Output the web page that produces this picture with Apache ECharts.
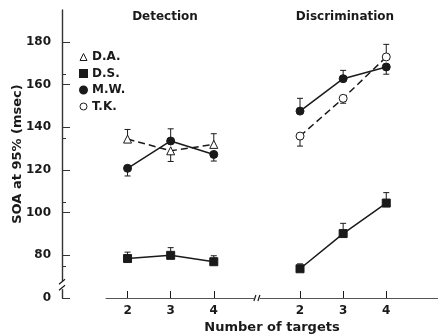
<!DOCTYPE html>
<html>
<head>
<meta charset="utf-8">
<script src="https://cdn.jsdelivr.net/npm/echarts@6/dist/echarts.min.js"></script>
<style>
  html, body { margin: 0; padding: 0; background: #fff; }
  #chart { width: 438px; height: 334px; }
</style>
</head>
<body>
<div id="chart"></div>
<script>
// number of targets per panel
const targets = ['2', '3', '4']
const detStart = 1 // x slot of Detection "2"
const discStart = 5 // x slot of Discrimination "2"
const breakSlot = 4

// SOA at 95% (msec)
const daDet = [134.5, 129, 132]
const dsDet = [78.5, 80, 77]
const dsDisc = [73.7, 90.2, 104.5]
const mwDet = [120.8, 133.6, 127.3]
const mwDisc = [147.6, 162.8, 168.3]
const tkDisc = [135.9, 153.6, 173]

// error bar end values (one side only, as drawn)
const daDetErr = [139, 124, 137]
const dsDetErr = [81.5, 83.6, 79.8]
const dsDiscErr = [76, 95, 109.4]
const mwDetErr = [117.2, 139.3, 124.2]
const mwDiscErr = [153.6, 166.7, 164.9]
const tkDiscErr = [131.2, 151.3, 178.9]

const yTicks = [60, 80, 100, 120, 140, 160, 180]
const yAxisOffset = 44
const ink = '#1a1a1a'
const font = 'DejaVu Sans'

const pts = (vals, start) => vals.map((v, i) => [start + i, v])
const errs = (vals, ends, start) => vals.map((v, i) => [start + i, v, ends[i]])

const errData = [].concat(
  errs(daDet, daDetErr, detStart),
  errs(dsDet, dsDetErr, detStart),
  errs(dsDisc, dsDiscErr, discStart),
  errs(mwDet, mwDetErr, detStart),
  errs(mwDisc, mwDiscErr, discStart),
  errs(tkDisc, tkDiscErr, discStart)
)

const solid = { color: ink, width: 1.5 }
const dashed = { color: ink, width: 1.5, type: [7, 4] }

function lineSeries(name, data, symbol, filled, lineStyle) {
  return {
    name: name,
    type: 'line',
    data: data,
    symbol: symbol,
    symbolSize: 8,
    lineStyle: lineStyle,
    itemStyle: { color: filled ? ink : '#fff', borderColor: ink, borderWidth: 1 },
    emphasis: { disabled: true },
    z: 3
  }
}

const chart = echarts.init(document.getElementById('chart'))

const option = {
  backgroundColor: '#fff',
  animation: false,
  textStyle: { fontFamily: font },
  grid: { left: 106, right: 0, top: 10, bottom: 36, outerBoundsMode: 'none', containLabel: false },
  graphic: [
    { type: 'text', x: 165, y: 11, style: { text: 'Detection', fontFamily: font, fontSize: 12, fontWeight: 'bold', fill: ink, align: 'center' } },
    { type: 'text', x: 345, y: 11, style: { text: 'Discrimination', fontFamily: font, fontSize: 12, fontWeight: 'bold', fill: ink, align: 'center' } }
  ],
  legend: {
    orient: 'vertical',
    left: 79,
    top: 51,
    itemWidth: 7,
    itemHeight: 7,
    itemGap: 4.5,
    padding: 0,
    textStyle: { fontFamily: font, fontSize: 12, fontWeight: 'bold', color: ink },
    data: [
      { name: 'D.A.', icon: 'triangle', itemStyle: { color: '#fff', borderColor: ink, borderWidth: 1 } },
      { name: 'D.S.', icon: 'rect', itemStyle: { color: ink } },
      { name: 'M.W.', icon: 'circle', itemStyle: { color: ink } },
      { name: 'T.K.', icon: 'circle', itemStyle: { color: '#fff', borderColor: ink, borderWidth: 1 } }
    ]
  },
  xAxis: {
    type: 'value',
    min: 0.5,
    max: 8.2,
    name: 'Number of targets',
    nameLocation: 'middle',
    nameGap: 23,
    nameMoveOverlap: false,
    nameTextStyle: { fontFamily: font, fontSize: 13, fontWeight: 'bold', color: ink },
    splitLine: { show: false },
    axisLine: { lineStyle: { color: '#555', width: 1 } },
    axisTick: {
      inside: true,
      length: 7,
      customValues: [1, 2, 3, 5, 6, 7],
      lineStyle: { color: ink }
    },
    axisLabel: {
      customValues: [1, 2, 3, 5, 6, 7],
      fontFamily: font,
      fontSize: 12,
      fontWeight: 'bold',
      color: ink,
      margin: 7,
      formatter: v => (v < breakSlot ? targets[v - detStart] : targets[v - discStart])
    }
  },
  yAxis: {
    type: 'value',
    min: 60,
    max: 195,
    offset: yAxisOffset,
    name: 'SOA at 95% (msec)',
    nameLocation: 'middle',
    nameGap: 38,
    nameMoveOverlap: false,
    nameTextStyle: { fontFamily: font, fontSize: 13, fontWeight: 'bold', color: ink },
    splitLine: { show: false },
    axisLine: { lineStyle: { color: '#333', width: 1.4 } },
    axisTick: {
      inside: true,
      length: 8,
      customValues: yTicks,
      lineStyle: { color: '#333' }
    },
    minorTick: { show: true, splitNumber: 2, length: 4, lineStyle: { color: '#333' } },
    axisLabel: {
      customValues: yTicks,
      fontFamily: font,
      fontSize: 12,
      fontWeight: 'bold',
      color: ink,
      margin: 11,
      formatter: v => (v === 60 ? '0' : String(v))
    }
  },
  series: [
    {
      type: 'custom',
      name: 'errors',
      data: errData,
      encode: { x: 0, y: [1, 2] },
      z: 2,
      silent: true,
      renderItem: function (params, api) {
        const p = api.coord([api.value(0), api.value(1)])
        const e = api.coord([api.value(0), api.value(2)])
        const st = { stroke: ink, lineWidth: 1 }
        return {
          type: 'group',
          children: [
            { type: 'line', shape: { x1: p[0], y1: p[1], x2: e[0], y2: e[1] }, style: st },
            { type: 'line', shape: { x1: e[0] - 3, y1: e[1], x2: e[0] + 3, y2: e[1] }, style: st }
          ]
        }
      }
    },
    lineSeries('D.A.', pts(daDet, detStart), 'triangle', false, dashed),
    lineSeries('D.S.', pts(dsDet, detStart), 'rect', true, solid),
    lineSeries('D.S.', pts(dsDisc, discStart), 'rect', true, solid),
    lineSeries('M.W.', pts(mwDet, detStart), 'circle', true, solid),
    lineSeries('M.W.', pts(mwDisc, discStart), 'circle', true, solid),
    lineSeries('T.K.', pts(tkDisc, discStart), 'circle', false, dashed),
    {
      // axis break marks on both axes
      type: 'custom',
      name: 'breaks',
      data: [[breakSlot, 60]],
      z: 5,
      silent: true,
      renderItem: function (params, api) {
        const xb = api.coord([api.value(0), api.value(1)])
        const ya = api.coord([0.5, 66])
        const yx = ya[0] - yAxisOffset
        const st = { stroke: ink, lineWidth: 1.2 }
        return {
          type: 'group',
          children: [
            { type: 'rect', shape: { x: yx - 3, y: ya[1] - 4, width: 6, height: 8 }, style: { fill: '#fff' } },
            { type: 'line', shape: { x1: yx - 3, y1: ya[1] - 1, x2: yx + 3, y2: ya[1] - 6 }, style: st },
            { type: 'line', shape: { x1: yx - 3, y1: ya[1] + 5, x2: yx + 3, y2: ya[1] }, style: st },
            { type: 'rect', shape: { x: xb[0] - 3, y: xb[1] - 3, width: 6, height: 6 }, style: { fill: '#fff' } },
            { type: 'line', shape: { x1: xb[0] - 3, y1: xb[1] + 3, x2: xb[0] - 1, y2: xb[1] - 3 }, style: st },
            { type: 'line', shape: { x1: xb[0] + 1, y1: xb[1] + 3, x2: xb[0] + 3, y2: xb[1] - 3 }, style: st }
          ]
        }
      }
    }
  ]
}

chart.setOption(option)
</script>
</body>
</html>
